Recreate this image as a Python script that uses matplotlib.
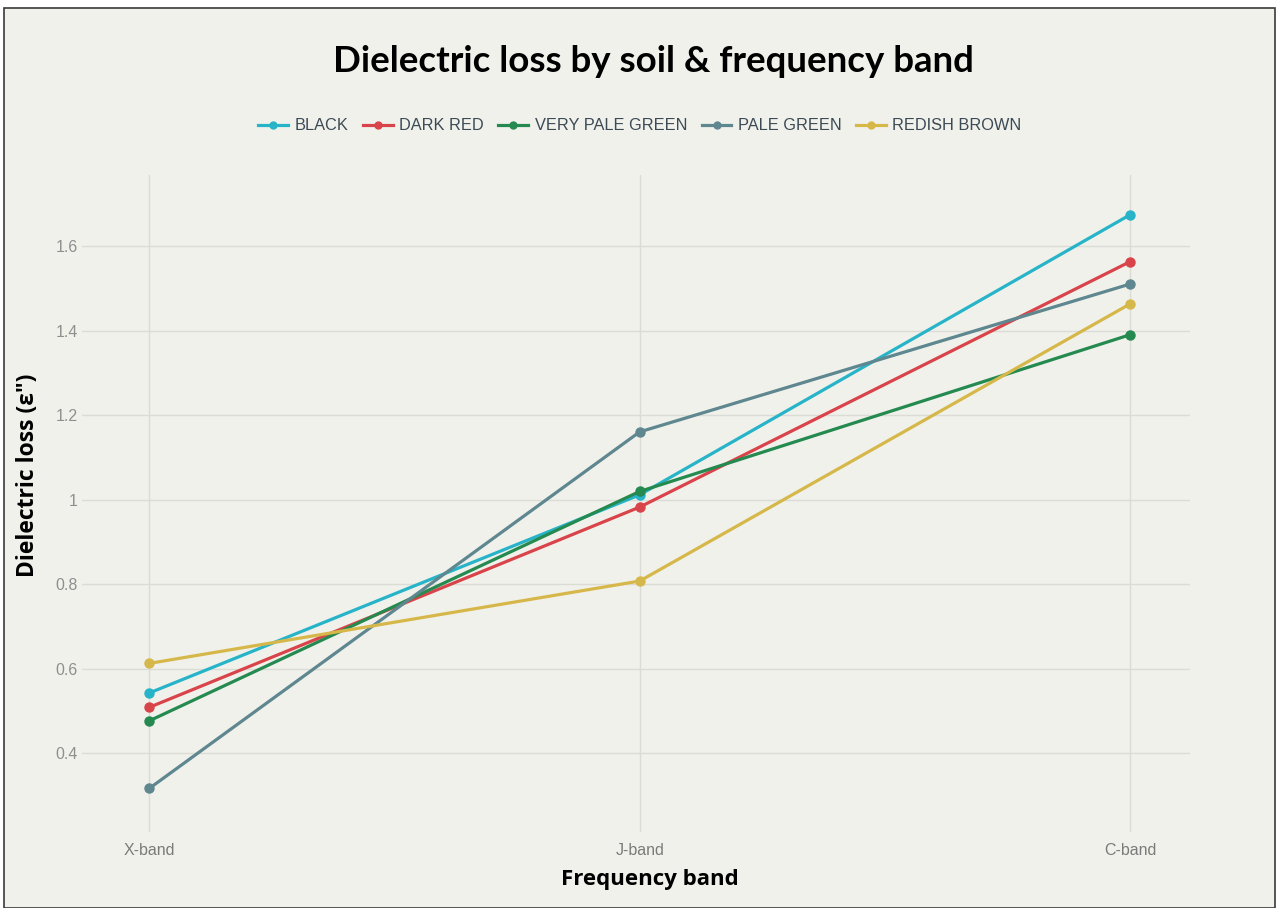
import matplotlib
matplotlib.use("Agg")
import matplotlib.pyplot as plt
from matplotlib.patches import Rectangle
from matplotlib.lines import Line2D

# Data
bands = ["X-band", "J-band", "C-band"]
soils = ["BLACK", "DARK RED", "VERY PALE GREEN", "PALE GREEN", "REDISH BROWN"]
black = [0.543, 1.012, 1.675]
dark_red = [0.509, 0.983, 1.564]
very_pale_green = [0.477, 1.020, 1.391]
pale_green = [0.317, 1.161, 1.511]
redish_brown = [0.613, 0.808, 1.464]
y_ticks = [0.4, 0.6, 0.8, 1.0, 1.2, 1.4, 1.6]
y_tick_labels = ["0.4", "0.6", "0.8", "1", "1.2", "1.4", "1.6"]

series = [black, dark_red, very_pale_green, pale_green, redish_brown]
colors = ["#27b4c8", "#d9444a", "#258a50", "#5e8790", "#d6b84a"]

W, H = 1276, 908
fig = plt.figure(figsize=(W / 100, H / 100), dpi=100, facecolor="white")

# framed panel background
fig.patches.append(Rectangle((4 / W, 0), (1275 - 4) / W, (H - 8) / H,
                             transform=fig.transFigure, facecolor="#f1f1ec",
                             edgecolor="#3a3a3a", linewidth=1.2, zorder=-10))

ax = fig.add_axes([82 / W, 1 - 832 / H, (1190 - 82) / W, (832 - 175) / H])
ax.set_facecolor("none")
ax.set_zorder(2)

x = list(range(len(bands)))
for vals, name, c in zip(series, soils, colors):
    ax.plot(x, vals, color=c, linewidth=2.3, marker="o", markersize=6.5,
            label=name, zorder=3, solid_capstyle="round")

ax.set_xlim(-0.137, 2.122)
ax.set_ylim(0.214, 1.769)
ax.set_xticks(x)
ax.set_xticklabels(bands, fontfamily="Liberation Sans", fontsize=11.5, color="#7a7a7a")
ax.set_yticks(y_ticks)
ax.set_yticklabels(y_tick_labels, fontfamily="Liberation Sans", fontsize=11.5, color="#8f8f8f")
ax.tick_params(axis="both", length=0)
ax.tick_params(axis="x", pad=8)
ax.tick_params(axis="y", pad=3)
ax.grid(True, color="#dcdcd6", linewidth=1.0)
ax.set_axisbelow(True)
for s in ax.spines.values():
    s.set_visible(False)

ax.set_xlabel("Frequency band", fontfamily="Open Sans", fontweight="bold",
              fontsize=16, color="black")
ax.xaxis.set_label_coords((650 - 82) / 1108, -(880 - 832) / 657)
ax.set_ylabel("Dielectric loss (ε\")", fontfamily="Open Sans", fontweight="bold",
              fontsize=16.5, color="black")
ax.yaxis.set_label_coords(-(82 - 28) / 1108, (832 - 475) / 657)
ax.xaxis.label.set_va("center")
ax.yaxis.label.set_va("center")

fig.text(653 / W, 1 - 61 / H, "Dielectric loss by soil & frequency band",
         ha="center", va="center", fontfamily="Lato", fontweight="bold",
         fontsize=26.4, color="black")

handles = [Line2D([0], [0], color=c, linewidth=2.3, marker="o", markersize=5)
           for c in colors]
fig.legend(handles, soils, loc="center", bbox_to_anchor=(640 / W, 1 - 126 / H),
           ncol=5, frameon=False, handlelength=1.8, handletextpad=0.4,
           columnspacing=0.9,
           prop={"family": "Liberation Sans", "size": 11.8}, labelcolor="#3c4a55")

fig.savefig("out.png", dpi=100, facecolor=fig.get_facecolor())
